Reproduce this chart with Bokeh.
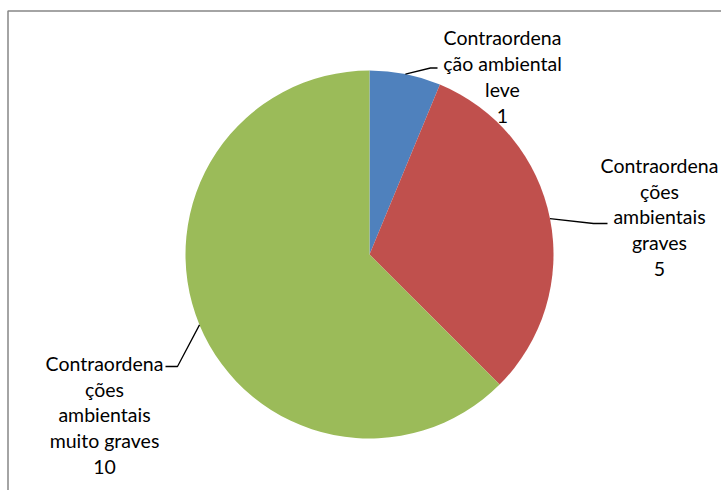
import math
from bokeh.plotting import figure
from bokeh.models import Range1d, ColumnDataSource
from bokeh.core.properties import value
from bokeh.embed import file_html
from bokeh.resources import INLINE

# ---- data ----
categories = ["Contraordenação ambiental leve",
              "Contraordenações ambientais graves",
              "Contraordenações ambientais muito graves"]
values = [1, 5, 10]
label_lines = [["Contraordena", "ção ambiental", "leve"],
               ["Contraordena", "ções", "ambientais", "graves"],
               ["Contraordena", "ções", "ambientais", "muito graves"]]
colors = ["#4F81BD", "#C0504D", "#9BBB59"]

# ---- layout (picture pixel coordinates) ----
W, H = 721, 490
CX, CY, R = 369, 254, 184
label_centers = [(502, 76), (659, 216.5), (104, 414.5)]
leader_knees = [[(430, 67.5), (437, 67.5)],
                [(593, 223), (607, 223)],
                [(177, 366), (165, 366)]]
FONT = "Lato"

def dy(page_y):
    return H - page_y   # picture y -> data y (y up)

p = figure(width=W, height=H, output_backend="svg", toolbar_location=None,
           x_range=Range1d(0, W), y_range=Range1d(0, H),
           min_border=0, min_border_left=0, min_border_right=0,
           min_border_top=0, min_border_bottom=0)
p.axis.visible = False
p.grid.visible = False
p.outline_line_color = None
p.background_fill_color = "white"
p.border_fill_color = "white"

total = sum(values)
cum = 0
starts, ends, mids = [], [], []
for v in values:
    a0 = math.pi / 2 - cum * 2 * math.pi / total
    cum += v
    a1 = math.pi / 2 - cum * 2 * math.pi / total
    starts.append(a1)
    ends.append(a0)
    mids.append((a0 + a1) / 2)

src = ColumnDataSource(dict(start=starts, end=ends, color=colors))
p.wedge(x=CX, y=dy(CY), radius=R, start_angle="start", end_angle="end",
        direction="anticlock", fill_color="color", line_color=None, source=src)

# border (chart area frame)
p.line(x=[7.5, 7.5, W + 5], y=[-5, dy(10.5), dy(10.5)],
       line_color="#868686", line_width=1.5)

# leader lines
for m, knees in zip(mids, leader_knees):
    xs = [CX + R * math.cos(m)] + [k[0] for k in knees]
    ys = [dy(CY) + R * math.sin(m)] + [dy(k[1]) for k in knees]
    p.line(x=xs, y=ys, line_color="black", line_width=1.3)

# labels
texts = ["\n".join(lines + [str(v)]) for lines, v in zip(label_lines, values)]
p.text(x=[c[0] for c in label_centers], y=[dy(c[1]) for c in label_centers],
       text=texts, text_align="center", text_baseline="middle",
       text_font=value(FONT), text_font_size="19.5px", text_line_height=1.13,
       text_color="black")

open("out.html", "w").write(file_html(p, INLINE))
